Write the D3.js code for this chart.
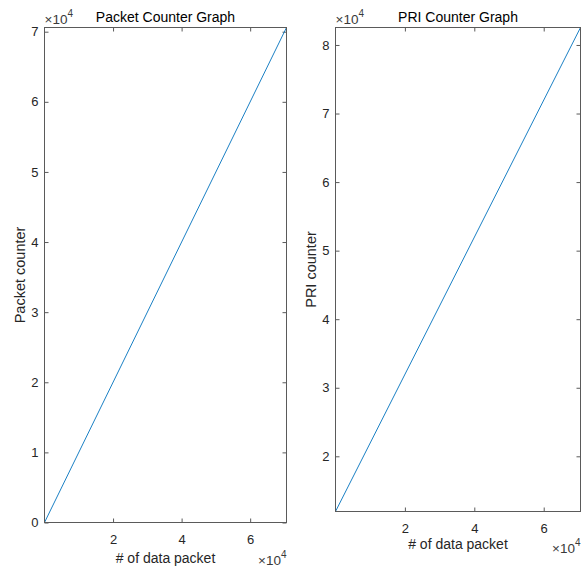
<!DOCTYPE html>
<html>
<head>
<meta charset="utf-8">
<script src="https://cdn.jsdelivr.net/npm/d3@7"></script>
<style>
  html, body { margin: 0; padding: 0; background: #fff; }
  svg { display: block; font-family: "Liberation Sans", Arial, Helvetica, sans-serif; }
</style>
</head>
<body>
<svg id="chart" width="588" height="567"></svg>
<script>
// Packet index (x) and the two counters sampled at the first and last packet
const packetIndex = [1, 70600];
const packetCounter = [0, 70599];
const priCounter = [11950, 82549];

// Tick values (raw units, labelled in units of 10^4)
const xTickValues = [20000, 40000, 60000];
const packetTickValues = [0, 10000, 20000, 30000, 40000, 50000, 60000, 70000];
const priTickValues = [20000, 30000, 40000, 50000, 60000, 70000, 80000];

const titles = ["Packet Counter Graph", "PRI Counter Graph"];
const yLabels = ["Packet counter", "PRI counter"];
const xLabel = "# of data packet";

const svg = d3.select("#chart");
const textColor = "#262626";
const boxColor = "#5a5a5a";
const lineColor = "#0072BD";

function exponentLabel(g, x, y, anchor) {
  const t = g.append("text")
    .attr("x", x).attr("y", y)
    .attr("text-anchor", anchor)
    .attr("font-size", 13.5)
    .attr("fill", "#3a3a3a");
  t.append("tspan").text("\u00d710");
  t.append("tspan").attr("dy", -7).attr("font-size", 10).text("4");
}

function drawPanel(opts) {
  const { left, right, top, bottom, ys, yTicks, title, yLabel, yLabelX } = opts;
  const g = svg.append("g");

  const x = d3.scaleLinear()
    .domain(d3.extent(packetIndex))
    .range([left, right]);
  const y = d3.scaleLinear()
    .domain(d3.extent(ys))
    .range([bottom, top]);

  const fmt = v => d3.format("~g")(v / 1e4);
  const tickLen = 4;

  // bottom axis: inward ticks, labels below
  const xAxis = d3.axisBottom(x).tickValues(xTickValues).tickFormat(fmt)
    .tickSizeInner(-tickLen).tickSizeOuter(0).tickPadding(12);
  const gx = g.append("g").attr("transform", `translate(0,${bottom})`).call(xAxis);
  gx.select(".domain").remove();
  gx.selectAll(".tick line").attr("stroke", boxColor);
  gx.selectAll(".tick text").attr("font-size", 13).attr("fill", textColor)
    .attr("font-family", "Liberation Sans, Arial, sans-serif");

  // top axis: ticks only
  const gxt = g.append("g").attr("transform", `translate(0,${top})`)
    .call(d3.axisTop(x).tickValues(xTickValues).tickFormat("")
      .tickSizeInner(-tickLen).tickSizeOuter(0));
  gxt.select(".domain").remove();
  gxt.selectAll(".tick line").attr("stroke", boxColor);

  // left axis: inward ticks, labels on the left
  const yAxis = d3.axisLeft(y).tickValues(yTicks).tickFormat(fmt)
    .tickSizeInner(-tickLen).tickSizeOuter(0).tickPadding(6);
  const gy = g.append("g").attr("transform", `translate(${left},0)`).call(yAxis);
  gy.select(".domain").remove();
  gy.selectAll(".tick line").attr("stroke", boxColor);
  gy.selectAll(".tick text").attr("font-size", 13).attr("fill", textColor)
    .attr("font-family", "Liberation Sans, Arial, sans-serif");

  // right axis: ticks only
  const gyr = g.append("g").attr("transform", `translate(${right},0)`)
    .call(d3.axisRight(y).tickValues(yTicks).tickFormat("")
      .tickSizeInner(-tickLen).tickSizeOuter(0));
  gyr.select(".domain").remove();
  gyr.selectAll(".tick line").attr("stroke", boxColor);

  // the counter line
  const pts = packetIndex.map((v, i) => [v, ys[i]]);
  g.append("path")
    .datum(pts)
    .attr("fill", "none")
    .attr("stroke", lineColor)
    .attr("stroke-width", 0.9)
    .attr("d", d3.line().x(d => x(d[0])).y(d => y(d[1])));

  // axes box
  g.append("rect")
    .attr("x", left).attr("y", top)
    .attr("width", right - left).attr("height", bottom - top)
    .attr("fill", "none").attr("stroke", boxColor).attr("stroke-width", 1);

  // title
  g.append("text")
    .attr("x", (left + right) / 2).attr("y", top - 6)
    .attr("text-anchor", "middle")
    .attr("font-size", 14).attr("fill", "#000")
    .text(title);

  // x label
  g.append("text")
    .attr("x", (left + right) / 2).attr("y", bottom + opts.xLabelDy)
    .attr("text-anchor", "middle")
    .attr("font-size", 14).attr("fill", textColor)
    .text(xLabel);

  // y label
  g.append("text")
    .attr("transform", `translate(${yLabelX},${(top + bottom) / 2}) rotate(-90)`)
    .attr("text-anchor", "middle")
    .attr("font-size", 14.5).attr("fill", textColor)
    .text(yLabel);

  // exponent multipliers
  exponentLabel(g, left, top - 4, "start");
  exponentLabel(g, right, bottom + opts.xExpDy, "end");
}

drawPanel({
  left: 44.5, right: 286.5, top: 27.5, bottom: 522.5,
  ys: packetCounter, yTicks: packetTickValues,
  title: titles[0], yLabel: yLabels[0], yLabelX: 25,
  xLabelDy: 40, xExpDy: 42
});

drawPanel({
  left: 335.5, right: 580.5, top: 27.5, bottom: 511.5,
  ys: priCounter, yTicks: priTickValues,
  title: titles[1], yLabel: yLabels[1], yLabelX: 316,
  xLabelDy: 37, xExpDy: 41
});
</script>
</body>
</html>
